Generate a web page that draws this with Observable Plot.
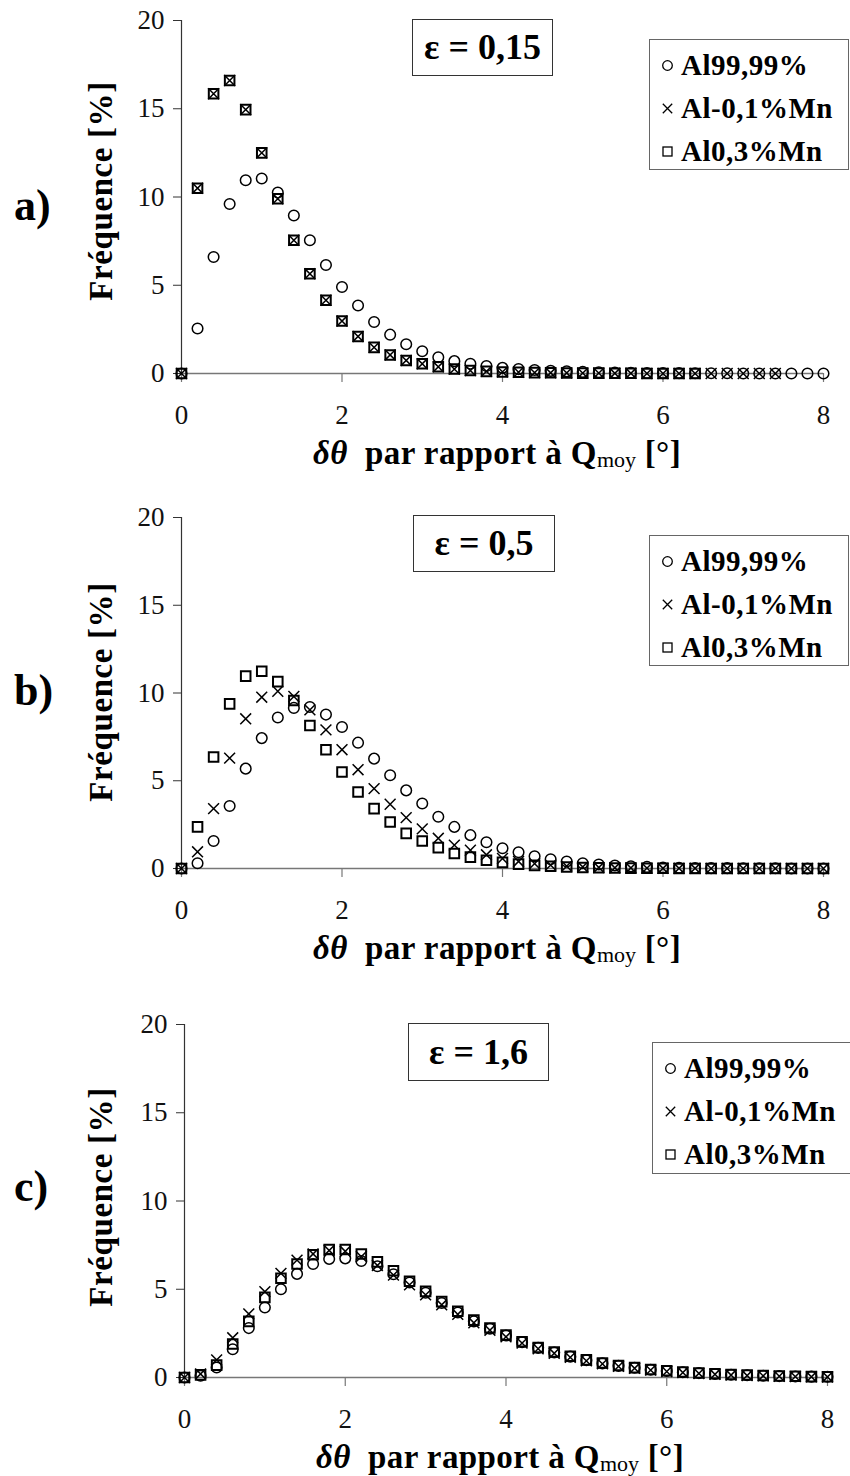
<!DOCTYPE html>
<html>
<head>
<meta charset="utf-8">
<script src="https://cdn.jsdelivr.net/npm/d3@7"></script>
<script src="https://cdn.jsdelivr.net/npm/@observablehq/plot@0.6"></script>
<style>
  html, body { margin: 0; padding: 0; background: #fff; }
  #root { position: relative; width: 850px; height: 1476px; font-family: "Liberation Serif", "Times New Roman", serif; color: #000; overflow: hidden; }
  .panel { position: absolute; left: 0; }
  .eps { position: absolute; box-sizing: border-box; border: 1px solid #333; font-weight: bold; font-size: 36px; text-align: center; background: #fff; }
  .legend { position: absolute; box-sizing: border-box; border: 1.5px solid #666; background: #fff; padding-top: 4px; }
  .legend .row { height: 43px; line-height: 43px; font-weight: bold; font-size: 29px; letter-spacing: 0.5px; white-space: nowrap; display: flex; align-items: center; }
  .legend .row svg { margin-left: 11px; margin-right: 7px; }
  .ylab { position: absolute; white-space: nowrap; font-weight: bold; font-size: 33px; letter-spacing: 0.6px; transform: translate(-50%, -50%) rotate(-90deg); }
  .xlab { position: absolute; white-space: nowrap; font-weight: bold; font-size: 33px; letter-spacing: 0.4px; transform: translate(-50%, -50%); }
  .xlab sub { font-size: 22px; font-weight: normal; vertical-align: baseline; position: relative; top: 3px; letter-spacing: 0; }
  .letter { position: absolute; font-weight: bold; font-size: 44px; transform: translateY(-50%); }
</style>
</head>
<body>
<div id="root"></div>
<script>
// ---- data ----
const theta = [0,0.2,0.4,0.6,0.8,1,1.2,1.4,1.6,1.8,2,2.2,2.4,2.6,2.8,3,3.2,3.4,3.6,3.8,4,4.2,4.4,4.6,4.8,5,5.2,5.4,5.6,5.8,6,6.2,6.4,6.6,6.8,7,7.2,7.4,7.6,7.8,8];
const seriesNames = ["Al99,99%", "Al-0,1%Mn", "Al0,3%Mn"];
const xTicks = [0, 2, 4, 6, 8];
const yTicks = [0, 5, 10, 15, 20];

// panel a) eps = 0,15
const a_Al9999 = [0,2.55,6.6,9.6,10.95,11.05,10.25,8.95,7.55,6.15,4.9,3.85,2.92,2.2,1.66,1.26,0.92,0.7,0.55,0.42,0.32,0.25,0.2,0.15,0.12,0.09,0.07,0.05,0.04,0.03,0.02,0.02,0.01,0.01,0.01,0,0,0,0,0,0];
const a_Mn01   = [0,10.5,15.85,16.6,14.95,12.5,9.9,7.55,5.65,4.15,2.97,2.1,1.48,1.05,0.74,0.55,0.38,0.25,0.17,0.12,0.09,0.07,0.05,0.04,0.03,0.02,0.02,0.01,0.01,0,0,0,0,0,0,0,0,0];
const a_Mn03   = [0,10.5,15.85,16.6,14.95,12.5,9.9,7.55,5.65,4.15,2.97,2.1,1.48,1.05,0.74,0.55,0.38,0.25,0.17,0.12,0.09,0.07,0.05,0.04,0.03,0.02,0.02,0.01,0.01,0,0,0,0];

// panel b) eps = 0,5
const b_Al9999 = [0,0.3,1.57,3.56,5.69,7.43,8.6,9.15,9.2,8.77,8.06,7.17,6.26,5.31,4.45,3.7,2.95,2.37,1.9,1.5,1.15,0.93,0.7,0.53,0.4,0.3,0.23,0.17,0.12,0.09,0.06,0.04,0.03,0.02,0.02,0.01,0.01,0.01,0,0,0];
const b_Mn01   = [0,0.95,3.41,6.29,8.53,9.76,10.1,9.8,9.04,7.9,6.77,5.63,4.55,3.66,2.9,2.26,1.72,1.33,1.04,0.78,0.57,0.4,0.28,0.19,0.13,0.09,0.06,0.04,0.03,0.02,0.01,0.01,0.01,0,0,0,0,0,0,0,0];
const b_Mn03   = [0,2.37,6.35,9.38,10.96,11.24,10.65,9.57,8.15,6.77,5.5,4.36,3.41,2.65,2.0,1.57,1.19,0.85,0.65,0.47,0.35,0.25,0.18,0.13,0.09,0.06,0.04,0.03,0.02,0.01,0.01,0,0,0,0,0,0,0,0,0,0];

// panel c) eps = 1,6
const c_Al9999 = [0,0.1,0.57,1.6,2.8,3.97,5.0,5.87,6.43,6.72,6.75,6.6,6.3,5.85,5.38,4.8,4.22,3.68,3.18,2.76,2.38,2.0,1.68,1.42,1.18,0.98,0.8,0.66,0.55,0.44,0.37,0.3,0.25,0.2,0.16,0.13,0.1,0.08,0.06,0.05,0.04];
const c_Mn01   = [0,0.2,1.0,2.25,3.6,4.86,5.9,6.65,7.0,7.2,7.15,6.85,6.35,5.8,5.25,4.68,4.12,3.58,3.1,2.68,2.3,1.95,1.63,1.37,1.14,0.94,0.77,0.63,0.52,0.42,0.34,0.28,0.23,0.18,0.14,0.11,0.09,0.07,0.05,0.04,0.03];
const c_Mn03   = [0,0.15,0.7,1.9,3.18,4.54,5.62,6.43,6.95,7.25,7.25,7.0,6.55,6.05,5.45,4.88,4.3,3.75,3.25,2.8,2.4,2.03,1.7,1.44,1.2,1.0,0.82,0.68,0.56,0.45,0.38,0.31,0.26,0.21,0.17,0.14,0.11,0.09,0.07,0.05,0.04];

const epsLabels = ["ε = 0,15", "ε = 0,5", "ε = 1,6"];
const panelLetters = ["a)", "b)", "c)"];

// ---- layout ----
const panels = [
  {series: [a_Al9999, a_Mn01, a_Mn03], top: 20, bottom: 373, left: 181, right: 823,
   eps: [412, 19, 141, 57], legend: [649, 39, 200, 131], letterY: 205, ylabY: 191, xlabX: 497},
  {series: [b_Al9999, b_Mn01, b_Mn03], top: 517, bottom: 868, left: 181, right: 823,
   eps: [413, 515, 142, 57], legend: [649, 535, 200, 131], letterY: 690, ylabY: 692, xlabX: 497},
  {series: [c_Al9999, c_Mn01, c_Mn03], top: 1024, bottom: 1377, left: 184, right: 827,
   eps: [408, 1023, 141, 58], legend: [652, 1042, 200, 132], letterY: 1186, ylabY: 1197, xlabX: 500}
];

const symbols = ["circle", "times", "square"];
const symR = [5.3, 5.0, 5.4];
const symSW = [1.5, 1.5, 2.0];

const root = document.getElementById("root");

function legendIcon(i) {
  const ns = "http://www.w3.org/2000/svg";
  const s = document.createElementNS(ns, "svg");
  s.setAttribute("width", 13); s.setAttribute("height", 13);
  s.setAttribute("viewBox", "-6.5 -6.5 13 13");
  let el;
  if (i === 0) {
    el = document.createElementNS(ns, "circle");
    el.setAttribute("r", 4.8);
  } else if (i === 1) {
    el = document.createElementNS(ns, "path");
    el.setAttribute("d", "M-4.7,-4.7L4.7,4.7M-4.7,4.7L4.7,-4.7");
  } else {
    el = document.createElementNS(ns, "rect");
    el.setAttribute("x", -4.5); el.setAttribute("y", -4.5);
    el.setAttribute("width", 9); el.setAttribute("height", 9);
  }
  el.setAttribute("fill", "none"); el.setAttribute("stroke", "#000"); el.setAttribute("stroke-width", 1.3);
  s.appendChild(el);
  return s;
}

panels.forEach((p, k) => {
  const mt = 20, mb = 75;
  const h = (p.bottom - p.top) + mt + mb;
  const marks = [
    Plot.ruleY([0], {stroke: "#777", strokeWidth: 1.3}),
    Plot.ruleX([0], {stroke: "#333", strokeWidth: 1.2}),
    Plot.axisX({ticks: xTicks, tickSize: 9, tickPadding: 22, stroke: "#777", strokeWidth: 1.2, fontSize: 27, label: null, tickFormat: d => String(d), fill: "#111"}),
    Plot.axisY({ticks: yTicks, tickSize: 8, tickPadding: 9, stroke: "#333", fontSize: 27, label: null, tickFormat: d => String(d), fill: "#111"})
  ];
  p.series.forEach((vals, i) => {
    const rows = vals.map((v, j) => ({x: theta[j], y: v, s: seriesNames[i]}));
    marks.push(Plot.dot(rows, {x: "x", y: "y", symbol: symbols[i], r: symR[i], stroke: "#000", strokeWidth: symSW[i], fill: "none"}));
  });
  const chart = Plot.plot({
    width: 850, height: h,
    marginTop: mt, marginBottom: mb, marginLeft: p.left, marginRight: 850 - p.right,
    x: {domain: [0, 8], axis: null},
    y: {domain: [0, 20], axis: null},
    style: {fontFamily: "'Liberation Serif', serif", fontSize: "27px", background: "transparent", overflow: "visible", color: "#111"},
    marks
  });
  const wrap = document.createElement("div");
  wrap.className = "panel";
  wrap.style.top = (p.top - mt) + "px";
  wrap.appendChild(chart);
  root.appendChild(wrap);

  // epsilon box
  const eb = document.createElement("div");
  eb.className = "eps";
  eb.style.left = p.eps[0] + "px"; eb.style.top = p.eps[1] + "px";
  eb.style.width = p.eps[2] + "px"; eb.style.height = p.eps[3] + "px";
  eb.style.lineHeight = (p.eps[3] - 2) + "px";
  eb.textContent = epsLabels[k];
  root.appendChild(eb);

  // legend
  const lg = document.createElement("div");
  lg.className = "legend";
  lg.style.left = p.legend[0] + "px"; lg.style.top = p.legend[1] + "px";
  lg.style.width = p.legend[2] + "px"; lg.style.height = p.legend[3] + "px";
  seriesNames.forEach((name, i) => {
    const row = document.createElement("div");
    row.className = "row";
    row.appendChild(legendIcon(i));
    const t = document.createElement("span");
    t.textContent = name;
    row.appendChild(t);
    lg.appendChild(row);
  });
  root.appendChild(lg);

  // y label
  const yl = document.createElement("div");
  yl.className = "ylab";
  yl.style.left = "101px"; yl.style.top = p.ylabY + "px";
  yl.textContent = "Fréquence [%]";
  root.appendChild(yl);

  // x label
  const xl = document.createElement("div");
  xl.className = "xlab";
  xl.style.left = p.xlabX + "px"; xl.style.top = (p.bottom + 80) + "px";
  xl.innerHTML = "<i>δθ</i>&nbsp; par rapport à Q<sub>moy</sub> [°]";
  root.appendChild(xl);

  // panel letter
  const lt = document.createElement("div");
  lt.className = "letter";
  lt.style.left = "14px"; lt.style.top = p.letterY + "px";
  lt.textContent = panelLetters[k];
  root.appendChild(lt);
});
</script>
</body>
</html>
